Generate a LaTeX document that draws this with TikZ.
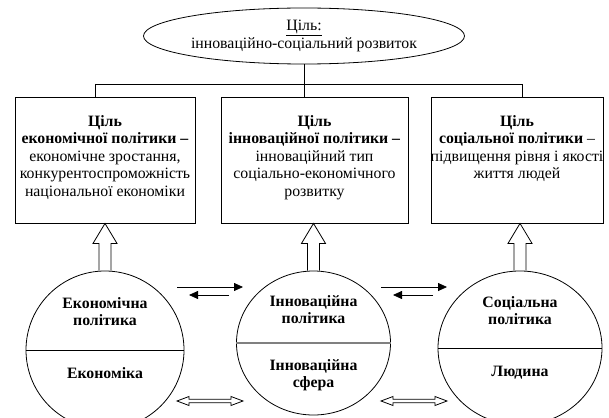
\documentclass[tikz,border=0pt]{standalone}
\usepackage{fontspec}
\setmainfont{Liberation Serif}
\usetikzlibrary{shapes.geometric,arrows.meta,calc}
\newcommand\hollowup[2]{%
  \coordinate (#1tip) at (#1.north |- #2.south);
  \draw[ln] ($(#1.north)+(-6,0)$) -- ($(#1tip)+(-6,20)$) -- ++(-6,0) -- (#1tip)
    -- ($(#1tip)+(12,20)$) -- ++(-6,0) -- ($(#1.north)+(6,0)$);}
\newcommand\hollowlr[1]{%
  \draw[ln, fill=white] ($(#1)+(-33,0)$) -- ++(12,-4.5) -- ++(0,2.7) -- ++(42,0) -- ++(0,-2.7)
    -- ++(12,4.5) -- ++(-12,4.5) -- ++(0,-2.7) -- ++(-42,0) -- ++(0,2.7) -- cycle;}
\begin{document}
\begin{tikzpicture}[x=1pt,y=-1pt,
  every node/.style={font=\fontsize{15.8pt}{17.5pt}\selectfont, inner sep=0pt},
  ln/.style={line width=0.8pt},
  goalbox/.style={draw, ln, rectangle},
  txt/.style={align=center, anchor=north},
  round/.style={draw, ln, ellipse},
  ctxt/.style={align=center, font=\fontsize{15.8pt}{17pt}\selectfont\bfseries},
  thinarrow/.style={ln, -{Triangle[length=9pt,width=8pt]}}]

\useasboundingbox (0,0) rectangle (609,417);
\clip (0,0) rectangle (609,417);

% goal ellipse
\node[round, minimum width=321pt, minimum height=56pt, align=center] (goal) at (304,36)
  {\underline{Ціль:}\\інноваційно-соціальний розвиток};

% boxes
\node[goalbox, minimum width=180pt, minimum height=126pt] (b1) at (105,160) {};
\node[goalbox, minimum width=187pt, minimum height=126pt] (b2) at (314.5,160) {};
\node[goalbox, minimum width=172pt, minimum height=126pt] (b3) at (517,160) {};

\node[txt] (t1) at (105,115) {\textbf{Ціль}\\\textbf{економічної політики –}\\економічне зростання,\\конкурентоспроможність\\національної економіки};
\node[txt] (t2) at (314.5,115) {\textbf{Ціль}\\\textbf{інноваційної політики –}\\інноваційний тип\\соціально-економічного\\розвитку};
\node[txt] (t3) at (517,115) {\textbf{Ціль}\\\textbf{соціальної політики} –\\підвищення рівня і якості\\життя людей};

% tree connectors
\coordinate (stem) at (304,84);
\coordinate (d1) at (95,84);
\coordinate (d3) at (522,84);
\draw[ln] (goal.south) -- (stem);
\draw[ln] (d1) -- (d3);
\draw[ln] (d1) -- (d1 |- b1.north);
\draw[ln] (stem) -- (stem |- b2.north);
\draw[ln] (d3) -- (d3 |- b3.north);

% circles
\node[round, minimum width=158pt, minimum height=158pt] (c1) at (105,350) {};
\node[round, minimum width=154pt, minimum height=144pt] (c2) at (313.5,343) {};
\node[round, minimum width=164pt, minimum height=154pt] (c3) at (520,348) {};
\draw[ln] (c1.west) -- (c1.east);
\draw[line width=1.3pt, gray] (c2.west) -- (c2.east);
\draw[ln] (c3.west) -- (c3.east);

\node[ctxt] (e1) at (105,311.5) {Економічна\\політика};
\node[ctxt] (e2) at (105,373) {Економіка};
\node[ctxt] (i1) at (313.5,310) {Інноваційна\\політика};
\node[ctxt] (i2) at (313.5,375) {Інноваційна\\сфера};
\node[ctxt] (s1) at (520,311) {Соціальна\\політика};
\node[ctxt] (s2) at (520,373) {Людина};

% hollow up arrows
\hollowup{c1}{b1}
\hollowup{c2}{b2}
\hollowup{c3}{b3}

% thin arrows between circles
\coordinate (a1s) at (177,287); \coordinate (a1e) at (243,287);
\coordinate (a2s) at (229,295); \coordinate (a2e) at (189,295);
\coordinate (a3s) at (381,287); \coordinate (a3e) at (447,287);
\coordinate (a4s) at (433,295); \coordinate (a4e) at (393,295);
\draw[thinarrow] (a1s) -- (a1e);
\draw[thinarrow] (a2s) -- (a2e);
\draw[thinarrow] (a3s) -- (a3e);
\draw[thinarrow] (a4s) -- (a4e);

% hollow double arrows
\coordinate (h1) at (210,401);
\coordinate (h2) at (414,401);
\hollowlr{h1}
\hollowlr{h2}
\end{tikzpicture}
\end{document}
